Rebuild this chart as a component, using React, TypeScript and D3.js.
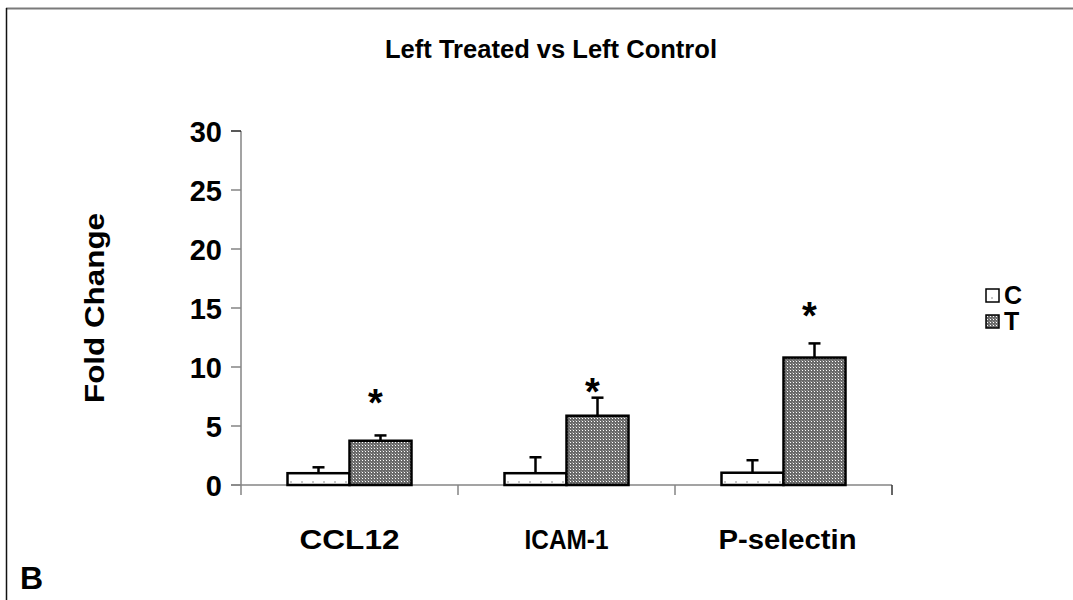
import React from 'react';
import * as d3 from 'd3';

const categories = ['CCL12', 'ICAM-1', 'P-selectin'];
const seriesNames = ['C', 'T'];
const controlValues = [1.0, 1.0, 1.04];
const controlErrors = [0.5, 1.35, 1.06];
const treatedValues = [3.75, 5.87, 10.8];
const treatedErrors = [0.45, 1.53, 1.2];
const starLevels = [7.3, 8.3, 14.7];
const yTicks = [0, 5, 10, 15, 20, 25, 30];

const W = 1073;
const H = 600;
const FONT = "'Liberation Sans', Arial, sans-serif";

export default function App() {
  const x0 = d3.scaleBand<string>().domain(categories).range([241, 892]).paddingInner(0).paddingOuter(0);
  const x1 = d3
    .scaleBand<string>()
    .domain(seriesNames)
    .range([0, x0.bandwidth()])
    .paddingInner(0)
    .paddingOuter(0.75);
  const y = d3.scaleLinear().domain([0, 30]).range([485, 131]);

  const series = [
    { name: 'C', values: controlValues, errors: controlErrors, fill: 'url(#patC)' },
    { name: 'T', values: treatedValues, errors: treatedErrors, fill: 'url(#patT)' },
  ];

  const boundaries = [...categories.map((c) => x0(c) as number), 892];
  const axisColor = '#858585';
  const starSize = 38;

  return (
    <svg
      width={W}
      height={H}
      style={{ position: 'absolute', left: 0, top: 0, display: 'block', background: '#fff' }}
      fontFamily={FONT}
      fontWeight="bold"
    >
      <defs>
        <pattern id="patC" patternUnits="userSpaceOnUse" width={11} height={11}>
          <rect width={11} height={11} fill="#fff" />
          <rect x={5} y={8} width={2} height={2} fill="#c8c8c8" />
        </pattern>
        <pattern id="patT" patternUnits="userSpaceOnUse" width={3} height={3}>
          <rect width={3} height={3} fill="#6a6a6a" />
          <rect x={1} y={1} width={1} height={1} fill="#ffffff" />
          <rect x={0} y={0} width={1} height={1} fill="#959595" />
        </pattern>
      </defs>

      {/* frame */}
      <line x1={6} x2={W} y1={8.5} y2={8.5} stroke="#7a7a7a" strokeWidth={2} />
      <line x1={6.5} x2={6.5} y1={8} y2={H} stroke="#111" strokeWidth={1.5} />

      {/* title */}
      <text x={551} y={58} textAnchor="middle" fontSize={25} textLength={332} lengthAdjust="spacingAndGlyphs">
        Left Treated vs Left Control
      </text>

      {/* y axis */}
      <line x1={241} x2={241} y1={y(30)} y2={495} stroke={axisColor} strokeWidth={1.5} />
      {yTicks.map((t) => (
        <g key={t}>
          <line x1={231} x2={241} y1={y(t)} y2={y(t)} stroke={t === 30 ? '#222' : axisColor} strokeWidth={1.5} />
          <text x={222} y={y(t) + 10.5} textAnchor="end" fontSize={29}>
            {t}
          </text>
        </g>
      ))}
      <text
        transform={`translate(104,308) rotate(-90)`}
        textAnchor="middle"
        fontSize={28}
        textLength={190}
        lengthAdjust="spacingAndGlyphs"
      >
        Fold Change
      </text>

      {/* x axis */}
      <line x1={231} x2={892} y1={y(0)} y2={y(0)} stroke={axisColor} strokeWidth={1.5} />
      {boundaries.slice(1).map((b, i) => (
        <line key={i} x1={b} x2={b} y1={y(0)} y2={495} stroke={i === 2 ? '#333' : axisColor} strokeWidth={1.5} />
      ))}
      {categories.map((c, i) => (
        <text
          key={c}
          x={(x0(c) as number) + x0.bandwidth() / 2 + (i === 2 ? 4 : 0)}
          y={549}
          textAnchor="middle"
          fontSize={27}
          textLength={[100, 84, 138][i]}
          lengthAdjust="spacingAndGlyphs"
        >
          {c}
        </text>
      ))}

      {/* bars */}
      {categories.map((c, i) => (
        <g key={c} transform={`translate(${x0(c)},0)`}>
          {series.map((s) => {
            const bx = x1(s.name) as number;
            const bw = x1.bandwidth();
            const cx = bx + bw / 2;
            const top = y(s.values[i]);
            const errTop = y(s.values[i] + s.errors[i]);
            return (
              <g key={s.name}>
                <line x1={cx} x2={cx} y1={top} y2={errTop} stroke="#000" strokeWidth={2.5} />
                <line x1={cx - 6} x2={cx + 6} y1={errTop} y2={errTop} stroke="#000" strokeWidth={2.5} />
                <rect
                  x={bx}
                  y={top}
                  width={bw}
                  height={y(0) - top}
                  fill={s.fill}
                  stroke="#000"
                  strokeWidth={2.5}
                />
              </g>
            );
          })}
          <text
            x={(x1('T') as number) + x1.bandwidth() / 2 - 5}
            y={y(starLevels[i]) + starSize * 0.46}
            textAnchor="middle"
            fontSize={starSize}
          >
            *
          </text>
        </g>
      ))}

      {/* legend */}
      {series.map((s, i) => (
        <g key={s.name} transform={`translate(986,${289 + i * 26})`}>
          <rect x={0} y={0} width={13} height={13} fill={s.fill} stroke="#000" strokeWidth={1.5} />
          <text x={18} y={15} fontSize={25}>
            {s.name}
          </text>
        </g>
      ))}

      {/* panel letter */}
      <text x={20} y={589} fontSize={32}>
        B
      </text>
    </svg>
  );
}
